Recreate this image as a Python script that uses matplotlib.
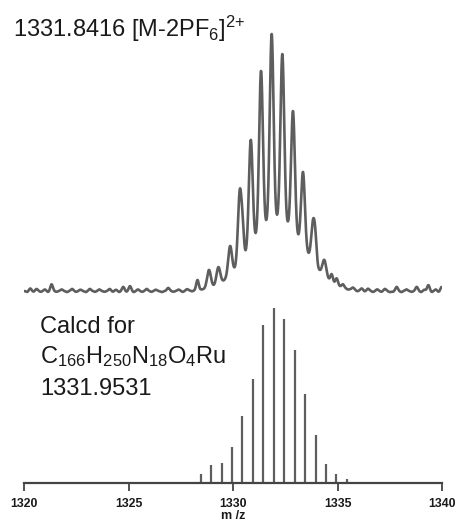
import numpy as np
import matplotlib
matplotlib.use("Agg")
import matplotlib.pyplot as plt

plt.rcParams['font.family'] = ['Liberation Sans', 'DejaVu Sans']
plt.rcParams['mathtext.fontset'] = 'custom'
plt.rcParams['mathtext.rm'] = 'Liberation Sans'
plt.rcParams['mathtext.default'] = 'regular'

# calculated isotope pattern (sticks, % of max)
calc_mz = [1328.45, 1328.95, 1329.45, 1329.95, 1330.45, 1330.95, 1331.45, 1331.95,
           1332.45, 1332.95, 1333.45, 1333.95, 1334.45, 1334.95, 1335.45, 1335.95]
calc_int = [5.4, 10.1, 11.4, 20.5, 38.0, 59.1, 90.3, 100.0,
            93.7, 76.1, 51.0, 27.6, 11.1, 5.4, 2.1, 0.6]

exp_mz = [1328.85, 1329.30, 1329.86, 1330.33, 1330.85, 1331.34, 1331.85,
          1332.36, 1332.87, 1333.35, 1333.84, 1334.37]
exp_int = [8.2, 9.3, 17.5, 39.3, 58.8, 85.6, 100.0, 92.2, 70.0, 46.3, 27.2, 12.1]

# shoulders and baseline wiggles (% of max, negative = dip)
small_mz = [1320.15, 1320.30, 1320.45, 1320.60, 1320.80, 1321.00, 1321.15, 1321.32,
            1321.55, 1321.80, 1322.05, 1322.30, 1322.50, 1322.70, 1322.95, 1323.15,
            1323.40, 1323.60, 1323.85, 1324.10, 1324.25, 1324.40, 1324.55, 1324.75,
            1324.90, 1325.07, 1325.25, 1325.45, 1325.65, 1325.87, 1326.10, 1326.30,
            1326.60, 1326.90, 1327.15, 1327.40, 1327.60, 1327.80, 1328.05, 1328.30,
            1330.47, 1333.95, 1334.72, 1334.96, 1335.26, 1335.50, 1335.74, 1335.95,
            1336.16, 1336.30, 1336.46, 1336.70, 1336.90, 1337.10, 1337.27, 1337.50,
            1337.65, 1337.83, 1338.05, 1338.30, 1338.55, 1338.79, 1339.00, 1339.15,
            1339.35, 1339.50, 1339.70, 1339.85, 1339.98]
small_int = [-0.4, 1.0, -0.3, 0.8, -0.3, 0.6, -0.4, 2.6,
             -0.3, 0.6, -0.4, 0.8, -0.3, 0.5, -0.4, 0.8,
             -0.3, 0.6, -0.3, 0.8, -0.3, 0.5, -0.4, 1.6,
             -0.3, 1.9, -0.4, 0.6, -0.3, 0.8, -0.3, 0.5,
             -0.4, 1.2, -0.3, 0.5, -0.4, 0.6, -0.3, 3.9,
             7.5, 5.5, 3.0, 2.5, 1.2, -0.3, 0.8, -0.4,
             0.8, -0.3, 0.8, -0.4, 0.6, -0.3, 0.8, -0.4,
             -0.3, 1.6, -0.4, 0.6, -0.3, 1.6, -0.4, 0.5,
             2.3, -0.4, 0.6, -0.4, 1.6]

# broad unresolved hump under the measured cluster
bg_center, bg_width, bg_height = 1332.1, 1.3, 27.2

xticks = [1320, 1325, 1330, 1335, 1340]


def background(m):
    return bg_height * np.exp(-(np.asarray(m) - bg_center) ** 2 / (2 * bg_width ** 2))


x = np.linspace(1320, 1340, 4001)
sig = 0.09
y = background(x)
for c, h in zip(exp_mz, exp_int):
    y += (h - background(c)) * np.exp(-(x - c) ** 2 / (2 * sig ** 2))
for c, h in zip(small_mz, small_int):
    y += h * np.exp(-(x - c) ** 2 / (2 * 0.06 ** 2))

# vertical layout (axis units ~ pixels above the x axis)
exp_offset, exp_scale = 192, 2.57
calc_scale = 1.754

fig = plt.figure(figsize=(4.58, 5.27), dpi=100)
ax = fig.add_axes([24 / 458, 1 - 483 / 527, 418 / 458, 483 / 527])

ax.plot(x, exp_offset + exp_scale * y, color='#5e5e5e', lw=1.9)
ax.vlines(calc_mz, 0, np.array(calc_int) * calc_scale, color='#5e5e5e', lw=1.6)

ax.set_xlim(1320, 1340)
ax.set_ylim(0, 483)
ax.set_yticks([])
for s in ['left', 'right', 'top']:
    ax.spines[s].set_visible(False)
ax.spines['bottom'].set_color('#444444')
ax.spines['bottom'].set_linewidth(1.6)
ax.set_xticks(xticks)
ax.set_xticklabels([str(t) for t in xticks], fontsize=8.8, fontweight='bold', color='#1a1a1a')
ax.tick_params(axis='x', direction='out', length=6, width=1.3, color='#444444', pad=5)
ax.set_xlabel('m /z', fontsize=9, fontweight='bold', color='#1a1a1a', labelpad=0)

fig.text(13 / 458, 1 - 37 / 527, r'1331.8416 [M-2PF$_6$]$^{2{+}}$', fontsize=17,
         color='#1a1a1a', va='baseline', ha='left')
fig.text(40 / 458, 1 - 333 / 527, 'Calcd for', fontsize=17, color='#1a1a1a',
         va='baseline', ha='left')
fig.text(40 / 458, 1 - 363 / 527, r'C$_{166}$H$_{250}$N$_{18}$O$_4$Ru', fontsize=17,
         color='#1a1a1a', va='baseline', ha='left')
fig.text(40 / 458, 1 - 395 / 527, '1331.9531', fontsize=17, color='#1a1a1a',
         va='baseline', ha='left')

fig.savefig('out.png', dpi=100)
